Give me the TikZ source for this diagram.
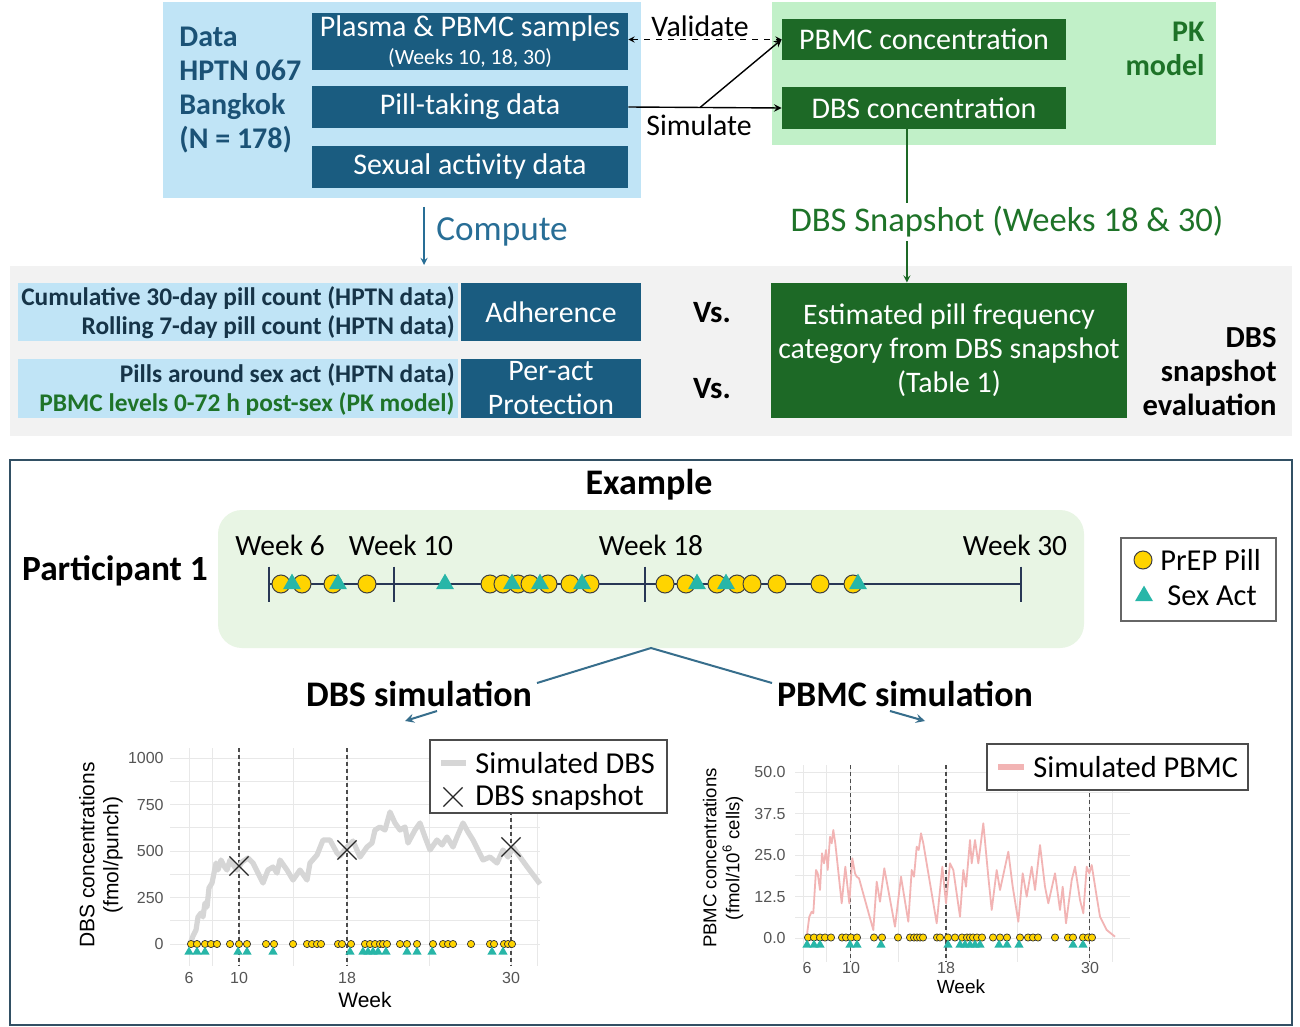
\documentclass[tikz,border=0pt]{standalone}
\usepackage{fontspec}
\setmainfont{Carlito}
\newfontfamily\plotfont{Liberation Sans}
\usepackage{tikz}
\usetikzlibrary{shapes.geometric,shapes.misc,arrows,positioning,calc}

\definecolor{lightblue}{RGB}{192,228,246}
\definecolor{darkblue}{RGB}{26,92,128}
\definecolor{textblue}{RGB}{27,82,118}
\definecolor{metricblue}{RGB}{22,52,72}
\definecolor{computeblue}{RGB}{40,110,150}
\definecolor{lightgreen}{RGB}{193,240,200}
\definecolor{darkgreen}{RGB}{29,105,38}
\definecolor{textgreen}{RGB}{30,115,40}
\definecolor{panelgrey}{RGB}{242,242,242}
\definecolor{palegreen}{RGB}{232,245,228}
\definecolor{pillyellow}{RGB}{255,212,0}
\definecolor{sexteal}{RGB}{40,182,168}
\definecolor{navyline}{RGB}{40,55,85}
\definecolor{branchblue}{RGB}{55,110,140}
\definecolor{frameblue}{RGB}{50,80,100}
\definecolor{dbsgrey}{RGB}{214,214,214}
\definecolor{pbmcpink}{RGB}{242,180,180}
\definecolor{gridgrey}{RGB}{232,232,232}
\definecolor{tickgrey}{RGB}{85,85,85}

\begin{document}
\begin{tikzpicture}[x=0.5pt, y=-0.5pt, >=stealth]
        % Define styles
        \tikzset{
            panel/.style={rectangle, draw=none, inner sep=0pt},
            datablock/.style={rectangle, fill=darkblue, text=white, minimum width=158pt, minimum height=21pt, inner sep=0pt, align=center, font=\fontsize{15}{17}\selectfont},
            pkblock/.style={rectangle, fill=darkgreen, text=white, minimum width=142pt, minimum height=20.5pt, inner sep=0pt, font=\fontsize{15}{17}\selectfont},
            evalblock/.style={rectangle, fill=darkblue, text=white, minimum width=90pt, minimum height=29pt, inner sep=0pt, align=center, font=\fontsize{14.9}{17}\selectfont},
            estblock/.style={rectangle, fill=darkgreen, text=white, minimum width=178pt, minimum height=67.5pt, inner sep=0pt, align=center, font=\fontsize{14.9}{17}\selectfont},
            bigtitle/.style={inner sep=0pt, font=\fontsize{15}{17}\selectfont\bfseries},
            linklabel/.style={inner sep=1pt, font=\fontsize{14.9}{17}\selectfont},
            metric/.style={inner sep=0pt, align=right, text=metricblue, font=\fontsize{12.7}{14.5}\selectfont\bfseries},
            heading/.style={inner sep=1pt, font=\fontsize{18}{20}\selectfont\bfseries},
            weeklabel/.style={inner sep=0pt, font=\fontsize{14.7}{16}\selectfont},
            arrow/.style={->, thick},
            timeline/.style={draw=navyline, line width=1.2pt},
            branch/.style={draw=branchblue, line width=1pt},
            pill/.style={circle, draw=black!75, fill=pillyellow, minimum size=9pt, inner sep=0pt, line width=0.5pt},
            sexact/.style={regular polygon, regular polygon sides=3, fill=sexteal, minimum size=10.4pt, inner sep=0pt},
            dotpill/.style={circle, draw=black!80, fill=pillyellow, minimum size=3.6pt, inner sep=0pt, line width=0.35pt},
            dotsex/.style={regular polygon, regular polygon sides=3, fill=sexteal, minimum size=5.4pt, inner sep=0pt},
            gridline/.style={draw=gridgrey, line width=0.5pt},
            minorline/.style={draw=gridgrey, line width=0.3pt},
            snapline/.style={draw=black!70, line width=0.55pt, dash pattern=on 2pt off 1.5pt},
            snapmark/.style={cross out, draw=black!85, minimum size=9pt, inner sep=0pt, line width=0.6pt},
            tick/.style={inner sep=0pt, text=tickgrey, font=\plotfont\fontsize{8}{9}\selectfont},
            axistitle/.style={inner sep=0pt, align=center, font=\plotfont\fontsize{10.5}{12}\selectfont},
            legendbox/.style={rectangle, draw=black!70, fill=white, line width=0.6pt, inner sep=0pt},
            legendtext/.style={inner sep=0pt, font=\fontsize{15.2}{17}\selectfont}
        }

        % Canvas
        \fill[white] (0,0) rectangle (1300,1027);
        \useasboundingbox (0,0) rectangle (1300,1027);

        % Data and PK model
        \node[panel, fill=lightblue, minimum width=239pt, minimum height=98pt] (datapanel) at (402,100) {};
        \node[panel, fill=lightgreen, minimum width=222pt, minimum height=71.5pt] (pkpanel) at (994,73.5) {};
        \node[datablock, minimum height=28.5pt] (samples) at (470,41.5) {Plasma \& PBMC samples\\[-3pt]{\fontsize{10.9}{12}\selectfont (Weeks 10, 18, 30)}};
        \node[datablock] (pilldata) at (470,107) {Pill-taking data};
        \node[datablock] (sexdata) at (470,167) {Sexual activity data};
        \node[bigtitle, anchor=west, align=left, text=textblue] (study) at (179,90.5) {Data\\HPTN 067\\Bangkok\\(N = 178)};
        \node[pkblock] (pbmcconc) at (924,39.5) {PBMC concentration};
        \node[pkblock, minimum height=21pt] (dbsconc) at (924,108) {DBS concentration};
        \node[bigtitle, anchor=east, align=right, text=textgreen] (pkmodel) at (1205,49) {PK\\model};

        % Evaluation row
        \node[panel, fill=panelgrey, minimum width=641pt, minimum height=85pt] (evalpanel) at (651,351) {};
        \node[panel, fill=lightblue, minimum width=220pt, minimum height=29pt] (adhstrip) at (238,312) {};
        \node[panel, fill=lightblue, minimum width=220pt, minimum height=29.5pt] (actstrip) at (238,388.5) {};
        \node[metric, anchor=east] (adhtext) at (455,312.5) {Cumulative 30-day pill count (HPTN data)\\Rolling 7-day pill count (HPTN data)};
        \node[metric, anchor=east] (acttext) at (455,389.5) {Pills around sex act (HPTN data)\\\textcolor{textgreen}{PBMC levels 0-72 h post-sex (PK model)}};
        \node[evalblock] (adherence) at (551,312) {Adherence};
        \node[evalblock, minimum height=29.5pt] (peract) at (551,388.5) {Per-act\\Protection};
        \node[bigtitle, font=\fontsize{15.5}{17}\selectfont\bfseries] (vsone) at (712,313) {Vs.};
        \node[bigtitle, font=\fontsize{15.5}{17}\selectfont\bfseries] (vstwo) at (712,389) {Vs.};
        \node[estblock] (estimate) at (949,350.5) {Estimated pill frequency\\category from DBS snapshot\\(Table 1)};
        \node[bigtitle, anchor=east, align=right, font=\fontsize{15.3}{17}\selectfont\bfseries] (evalname) at (1277,372) {DBS\\snapshot\\evaluation};

        % Draw arrows
        \draw[<->, dashed, thin] (samples.east |- pbmcconc.west) -- (pbmcconc.west);
        \node[linklabel] (validate) at (700,26) {Validate};
        \draw[arrow, line width=0.7pt] (pilldata.east) -- (dbsconc.west);
        \coordinate (simsplit) at (700,107.5);
        \draw[arrow, line width=0.7pt] (simsplit) -- (pbmcconc.west);
        \node[linklabel] (simulate) at (699,125) {Simulate};
        \coordinate (computetop) at (424,207);
        \coordinate (computebot) at (424,265);
        \draw[->, draw=computeblue, line width=0.6pt] (computetop) -- (computebot);
        \node[anchor=west, inner sep=0pt, text=computeblue, font=\fontsize{17.6}{19}\selectfont] (compute) at (436,232) {Compute};
        \coordinate (snaptop) at ($(dbsconc.south west)!0.44!(dbsconc.south east)$);
        \draw[->, draw=darkgreen, line width=0.6pt] (snaptop) -- (snaptop |- estimate.north);
        \node[fill=white, inner sep=2pt, text=textgreen, font=\fontsize{17.3}{19}\selectfont] (snapshot) at (1007,222) {DBS Snapshot (Weeks 18 \& 30)};

        % Example panel
        \node[panel, draw=frameblue, line width=1pt, minimum width=641pt, minimum height=282.5pt] (examplepanel) at (651,742.5) {};
        \node[heading] (example) at (649,485) {Example};
        \node[panel, fill=palegreen, rounded corners=12pt, minimum width=433pt, minimum height=69pt] (timelinepanel) at (651,579) {};
        \node[heading, font=\fontsize{17.7}{20}\selectfont\bfseries] (participant) at (115,571) {Participant 1};

        % Timeline
        \coordinate (w6) at (269,584);
        \coordinate (w10) at (394,584);
        \coordinate (w18) at (645,584);
        \coordinate (w30) at (1021,584);
        \draw[timeline] (w6) -- (w30);
        \foreach \t in {w6,w10,w18,w30}
            \draw[timeline] ($(\t)+(0,-17.5)$) -- ($(\t)+(0,17.5)$);
        \node[weeklabel] (lwsix) at (280,545) {Week 6};
        \node[weeklabel] (lwten) at (401,545) {Week 10};
        \node[weeklabel] (lweighteen) at (651,545) {Week 18};
        \node[weeklabel] (lwthirty) at (1015,545) {Week 30};
        \foreach \x [count=\i] in {281,302,333,367,490,503,518,530,548,570,590,665,686,717,737,752,777,820,853}
            \node[pill] (tlpill\i) at (\x,584) {};
        \foreach \x [count=\i] in {292,338,445,512,540,582,697,726,858}
            \node[sexact] (tlsex\i) at (\x,584) {};

        % Timeline legend
        \node[legendbox, draw=black!60, minimum width=77.5pt, minimum height=41.5pt] (pilllegend) at (1198.5,579.5) {};
        \node[pill] (legpill) at (1143,560) {};
        \node[legendtext, anchor=west] (legpilltext) at (1160,560) {PrEP Pill};
        \node[sexact] (legsex) at (1144,596) {};
        \node[legendtext, anchor=west] (legsextext) at (1167,596) {Sex Act};

        % Split into simulations
        \node[heading] (dbssim) at (419,694) {DBS simulation};
        \node[heading] (pbmcsim) at (905,694) {PBMC simulation};
        \coordinate (split) at (651,648);
        \coordinate (dbsbranch) at (537,683);
        \coordinate (pbmcbranch) at (772,683);
        \draw[branch] (dbsbranch) -- (split) -- (pbmcbranch);
        \coordinate (dbsarrowtop) at (437,711);
        \coordinate (dbsplot) at (405,721);
        \coordinate (pbmcarrowtop) at (890,711);
        \coordinate (pbmcplot) at (925,721);
        \draw[branch, ->] (dbsarrowtop) -- (dbsplot);
        \draw[branch, ->] (pbmcarrowtop) -- (pbmcplot);

        % DBS plot
        \foreach \v in {125,375,625,875}
            \draw[minorline] (170,{944-0.186*\v}) -- (540,{944-0.186*\v});
        \foreach \v in {0,250,500,750,1000}
            \draw[gridline] (170,{944-0.186*\v}) -- (540,{944-0.186*\v});
        \foreach \x in {189,212,239,293,347,429,511,537}
            \draw[gridline] (\x,748) -- (\x,966);
        \foreach \v in {0,250,500,750,1000}
            \node[tick, anchor=east] (dbsy\v) at (164,{944-0.186*\v}) {\v};
        \foreach \x/\w in {189/6,239/10,347/18,511/30}
            \node[tick] (dbsx\w) at (\x,978) {\w};
        \node[axistitle, rotate=90] (dbsylab) at (101,855) {DBS concentrations\\(fmol/punch)};
        \node[axistitle] (dbsxlab) at (365,1000) {Week};
        \foreach \x in {239,347,511}
            \draw[snapline] (\x,748) -- (\x,966);
        \draw[dbsgrey, line width=2.6pt, line join=round] plot coordinates {
            (190,944) (193,936) (196,930) (198,917) (201,913) (203,917) (205,903) (207,907)
            (209,888) (212,883) (214,873) (216,863) (218,870) (221,860) (224,866) (227,870)
            (230,860) (234,866) (237,870) (242,862) (248,858) (253,863) (258,873) (263,883)
            (268,870) (273,867) (277,873) (280,860) (287,870) (293,880) (300,870) (307,880)
            (310,863) (317,855) (323,840) (330,840) (337,853) (340,856) (347,847) (353,841)
            (360,857) (367,847) (372,843) (375,830) (380,827) (385,830) (390,812) (395,823)
            (400,830) (405,827) (408,843) (415,830) (420,823) (425,837) (430,850) (437,840)
            (442,845) (447,837) (453,847) (457,837) (463,823) (468,832) (473,840) (478,850)
            (483,860) (490,857) (497,863) (503,850) (508,857) (513,847) (520,857) (528,868)
            (537,880) (540,884)};
        \node[snapmark] (snapten) at (239,866) {};
        \node[snapmark] (snapeighteen) at (347,850) {};
        \node[snapmark] (snapthirty) at (511,847) {};
        \foreach \x [count=\i] in {191,197,205,211,217,230,239,247,266,274,293,307,312,317,321,338,342,351,365,370,375,380,383,387,400,407,417,433,443,448,453,471,490,494,504,508,512}
            \node[dotpill] (dbspill\i) at (\x,944) {};
        \foreach \x [count=\i] in {189,197,205,238,247,273,350,363,368,373,378,386,407,417,432,492,503}
            \node[dotsex] (dbssex\i) at (\x,952) {};

        % DBS legend
        \node[legendbox, minimum width=118.5pt, minimum height=36.5pt] (dbslegend) at (548.5,776.5) {};
        \draw[dbsgrey, line width=3pt] (441,763) -- (466,763);
        \node[legendtext, anchor=west] (dbslegline) at (475,763) {Simulated DBS};
        \node[snapmark] (dbslegmark) at (453,797) {};
        \node[legendtext, anchor=west] (dbslegsnap) at (475,797) {DBS snapshot};

        % PBMC plot
        \foreach \v in {6.25,18.75,31.25,43.75}
            \draw[minorline] (795,{938-3.32*\v}) -- (1130,{938-3.32*\v});
        \foreach \v in {0,12.5,25,37.5,50}
            \draw[gridline] (795,{938-3.32*\v}) -- (1130,{938-3.32*\v});
        \foreach \x in {803,826.5,850.4,898.2,946,1017.7,1089.4,1112}
            \draw[gridline] (\x,765) -- (\x,962);
        \foreach \v/\lab/\n in {0/0.0/a,12.5/12.5/b,25/25.0/c,37.5/37.5/d,50/50.0/e}
            \node[tick, anchor=east] (pbmcy\n) at (786,{938-3.32*\v}) {\lab};
        \foreach \x/\w in {807/6,851/10,946/18,1090/30}
            \node[tick] (pbmcx\w) at (\x,968) {\w};
        \node[axistitle, font=\plotfont\fontsize{9.3}{11.5}\selectfont, rotate=90] (pbmcylab) at (723,858) {PBMC concentrations\\(fmol/10\textsuperscript{6} cells)};
        \node[axistitle, font=\plotfont\fontsize{9.5}{11}\selectfont] (pbmcxlab) at (961,987) {Week};
        \foreach \x in {850.4,946,1089.4}
            \draw[snapline] (\x,765) -- (\x,962);
        \draw[pbmcpink, line width=0.9pt, line join=round] plot coordinates {
            (806.7,936.7) (809.3,916.7) (811.7,911.7) (813.3,913.3) (816,870) (817.7,873.3) (820,890)
            (822,853.3) (824,863.3) (826,850) (827.7,870) (830,836.7) (831.7,843.3) (833.3,830)
            (835.3,843.3) (841.7,903.3) (845.3,866.7) (849.3,903.3) (852.3,858.3) (855,873.3)
            (856.7,876.7) (859,878.3) (873.3,930) (876.7,881.7) (880,901.7) (884.3,868.3)
            (895,926.7) (901,876.7) (908.3,921.7) (911.7,870) (914,876.7) (916.7,846.7)
            (918.7,850) (921,833.3) (923.3,843.3) (936.7,923.3) (942.3,866.7) (946,903.3)
            (950,863.3) (953.3,870) (960,916.7) (963.3,870) (966,886.7) (970,840) (971.7,863.3)
            (975,840) (978.3,863.3) (983.3,823.3) (988.3,876.7) (991.7,910) (996.7,870)
            (1000,890) (1008.3,851.7) (1012.7,886.7) (1018.3,921.7) (1022.7,873.3) (1026.7,896.7)
            (1031.7,866.7) (1035,890) (1040,845) (1045,886.7) (1048.3,903.3) (1055,873.3)
            (1060,910) (1062.7,886.7) (1066,923.3) (1071.7,880) (1075,866.7) (1080,900)
            (1083.3,913.3) (1086.7,866.7) (1089.3,873.3) (1091.7,865) (1096.7,896.7)
            (1100,916.7) (1106.7,930) (1115,936.7)};
        \foreach \x [count=\i] in {808,814,820,825,831,842,846,851,857,874,882,898,910,914,917,920,923,937,940,948,955,962,967,970,973,977,982,993,1000,1007,1020,1028,1033,1038,1055,1068,1073,1083,1088,1092}
            \node[dotpill] (pbmcpill\i) at (\x,937.5) {};
        \foreach \x [count=\i] in {807,814,820,850,857,881,948,960,965,970,975,980,999,1007,1019,1073,1083}
            \node[dotsex] (pbmcsex\i) at (\x,945) {};

        % PBMC legend
        \node[legendbox, minimum width=130.5pt, minimum height=23pt] (pbmclegend) at (1117.5,767) {};
        \draw[pbmcpink, line width=3pt] (998,767) -- (1024,767);
        \node[legendtext, anchor=west] (pbmclegline) at (1033,767) {Simulated PBMC};
\end{tikzpicture}
\end{document}
